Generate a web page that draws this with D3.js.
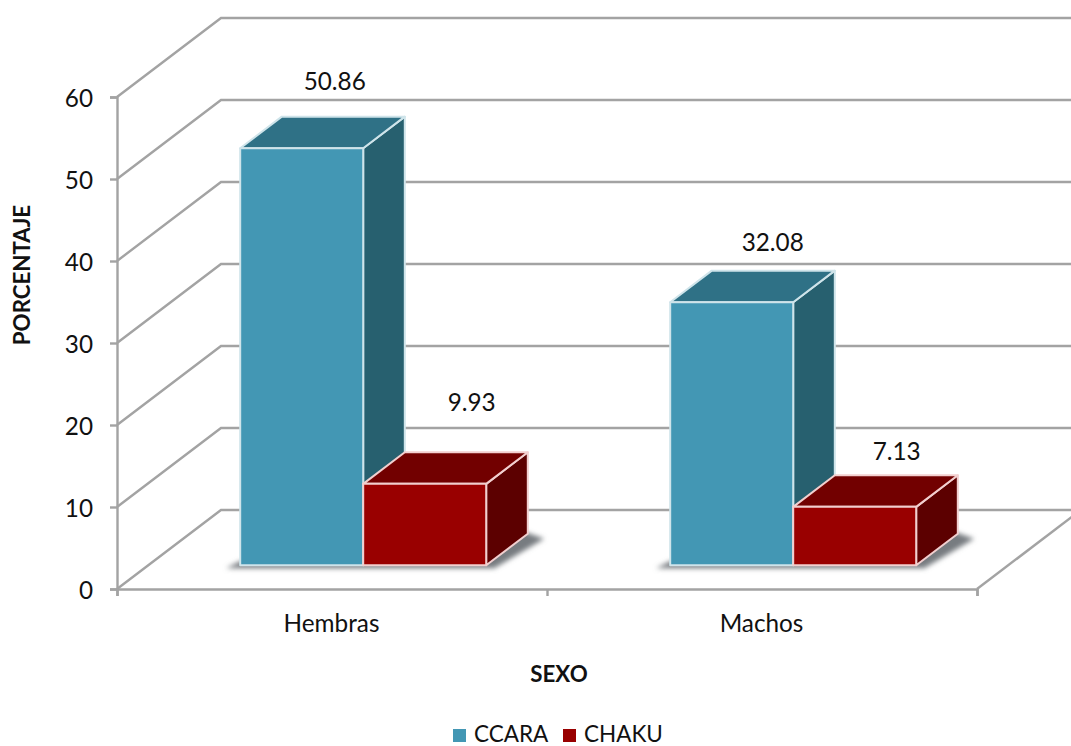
<!DOCTYPE html>
<html><head><meta charset="utf-8">
<script src="https://cdn.jsdelivr.net/npm/d3@7"></script>
<style>html,body{margin:0;padding:0;background:#fff}svg{display:block}text{font-family:Lato,"Open Sans",sans-serif;fill:#111}</style>
</head><body><script>
const categories=["Hembras","Machos"];
const seriesNames=["CCARA","CHAKU"];
const ccara=[50.86,32.08];
const chaku=[9.93,7.13];
const yTicks=[0,10,20,30,40,50,60];
const frontColors=["#4397b4","#990000"];
const topColors=["#2f7186","#720000"];
const sideColors=["#27606f","#5c0000"];
const edgeColors=["#cfe4ea","#f2cfcf"];
const labelShift=[[[33,-66],[47,-81]],[[41,-59],[42,-55]]];

const W=1071,H=746;
const svg=d3.select("body").append("svg").attr("width",W).attr("height",H);
const defs=svg.append("defs");
const flt=defs.append("filter").attr("id","soft").attr("x","-20%").attr("y","-30%").attr("width","140%").attr("height","160%");
flt.append("feGaussianBlur").attr("stdDeviation",2.5);
defs.append("clipPath").attr("id","page").append("rect").attr("width",W).attr("height",H);

const x0=d3.scaleBand().domain(categories).range([117,977]);
const x1=d3.scaleBand().domain(seriesNames).range([0,x0.bandwidth()]).paddingInner(0).paddingOuter(0.748);
const y=d3.scaleLinear().domain([0,60]).range([589,97]);
const depthX=104,depthY=79;
const P=(x,v,z)=>[x+z*depthX,y(v)-z*depthY];
const zFront=0.3,zBack=0.7;
const grey="#a3a3a3";
const fs=24.3;

const g=svg.append("g").attr("clip-path","url(#page)");
// walls: grid lines
g.selectAll("path.grid").data(yTicks).join("path").attr("class","grid")
  .attr("fill","none").attr("stroke",grey).attr("stroke-width",2.4)
  .attr("d",t=>d3.line()([P(117,t,0),P(117,t,1),P(977,t,1)]));
// floor right edge
g.append("path").attr("fill","none").attr("stroke",grey).attr("stroke-width",2.4)
  .attr("d",d3.line()([P(977,0,0),P(977,0,1)]));

// axes
const yAxis=g.append("g").attr("transform","translate(117,0)").call(d3.axisLeft(y).tickValues(yTicks).tickSize(7).tickPadding(17));
yAxis.selectAll("path,line").attr("stroke",grey).attr("stroke-width",2.4);
yAxis.selectAll("text").attr("font-size",fs).attr("font-family","Lato").attr("transform","translate(0,2)");
const tickScale=d3.scaleLinear().domain([0,2]).range([117,977]);
const xAxis=g.append("g").attr("transform","translate(0,589)").call(d3.axisBottom(tickScale).tickValues([0,1,2]).tickSize(7).tickFormat(""));
xAxis.selectAll("path,line").attr("stroke",grey).attr("stroke-width",2.4);
g.selectAll("text.cat").data(categories).join("text").attr("class","cat")
  .attr("x",d=>x0(d)+x0.bandwidth()/2-0.5).attr("y",631.5).attr("text-anchor","middle").attr("font-size",fs).text(d=>d);

// bars
const rows=categories.map((c,i)=>[ccara[i],chaku[i]].map((v,s)=>({c,i,s,v,x:x0(c)+x1(seriesNames[s])})));
const w=x1.bandwidth();
const poly=pts=>d3.line()(pts)+"Z";
// floor shadow
const off=zFront*depthX;
g.selectAll("path.shadow").data(rows).join("path").attr("class","shadow")
  .attr("fill","#777c80").attr("filter","url(#soft)")
  .attr("d",r=>{const l=r[0].x+off,rr=r[1].x+w+off,fy=y(0)-zFront*depthY,by=y(0)-zBack*depthY;
    return poly([[l-14,fy+3],[rr+8,fy+3],[rr+58,by+5],[rr+38,by-2],[l,fy-4]]);});

const bars=g.selectAll("g.bar").data(rows.flat()).join("g").attr("class","bar")
  .attr("stroke",d=>edgeColors[d.s]).attr("stroke-width",2).attr("stroke-linejoin","round");
bars.append("path").attr("fill",d=>sideColors[d.s])
  .attr("d",d=>poly([P(d.x+w,0,zFront),P(d.x+w,0,zBack),P(d.x+w,d.v,zBack),P(d.x+w,d.v,zFront)]));
bars.append("path").attr("fill",d=>topColors[d.s])
  .attr("d",d=>poly([P(d.x,d.v,zFront),P(d.x+w,d.v,zFront),P(d.x+w,d.v,zBack),P(d.x,d.v,zBack)]));
bars.append("path").attr("fill",d=>frontColors[d.s])
  .attr("d",d=>poly([P(d.x,0,zFront),P(d.x+w,0,zFront),P(d.x+w,d.v,zFront),P(d.x,d.v,zFront)]));

// value labels
g.selectAll("text.val").data(rows.flat()).join("text").attr("class","val")
  .attr("text-anchor","middle").attr("font-size",fs)
  .attr("x",d=>d.x+off+w/2+labelShift[d.i][d.s][0])
  .attr("y",d=>y(d.v)-zFront*depthY+labelShift[d.i][d.s][1]+8)
  .text(d=>d.v.toFixed(2));

// titles
svg.append("text").attr("transform","translate(30,275) rotate(-90)").attr("text-anchor","middle").attr("font-size",22.3).attr("font-weight",700).text("PORCENTAJE");
svg.append("text").attr("x",559).attr("y",682).attr("text-anchor","middle").attr("font-size",22.3).attr("font-weight",700).text("SEXO");

// legend
const legendX=d3.scaleOrdinal().domain(seriesNames).range([453,563]);
const lg=svg.selectAll("g.leg").data(seriesNames).join("g").attr("class","leg").attr("transform",d=>`translate(${legendX(d)},729)`);
lg.append("rect").attr("width",13).attr("height",13).attr("fill",(d,i)=>frontColors[i]);
lg.append("text").attr("x",21).attr("y",13).attr("font-size",22.5).text(d=>d);
</script></body></html>
